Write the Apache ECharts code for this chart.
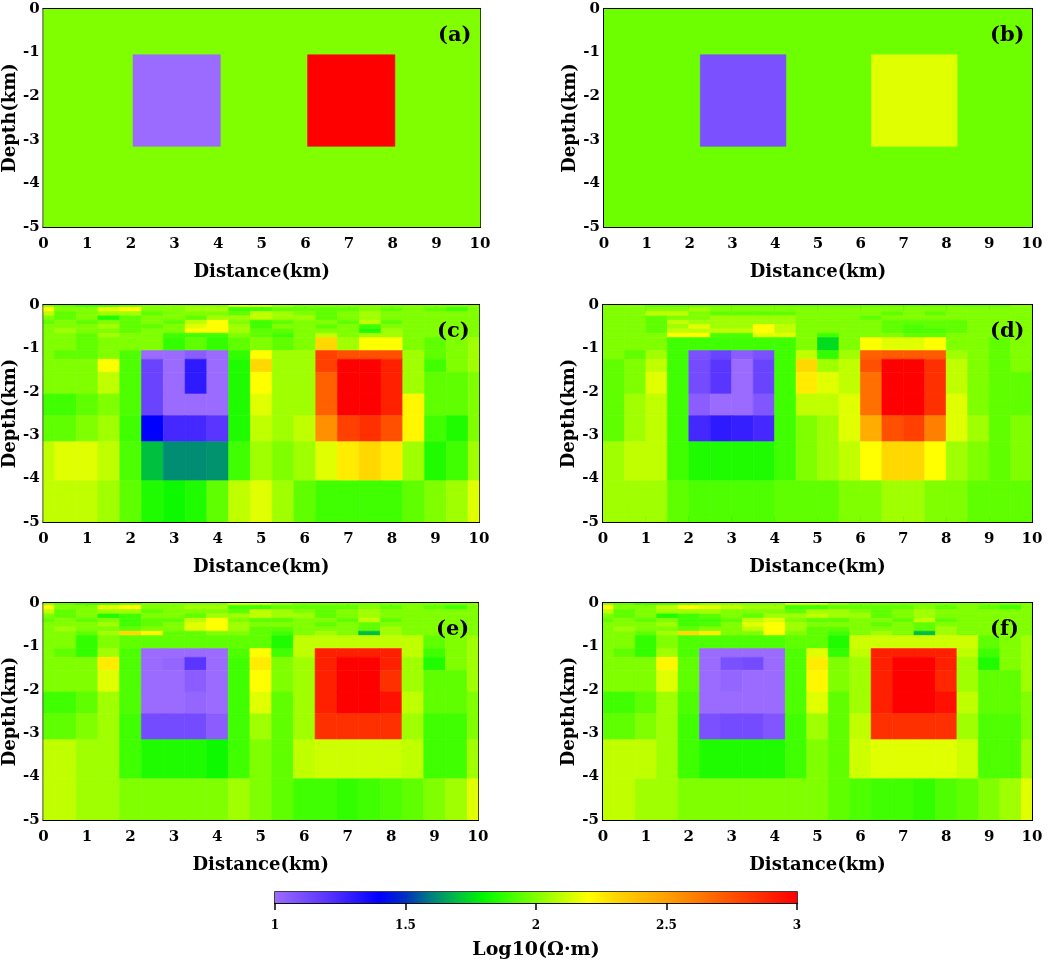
<!DOCTYPE html>
<html>
<head>
<meta charset="utf-8">
<script src="https://cdn.jsdelivr.net/npm/echarts@6/dist/echarts.min.js"></script>
<style>
html, body { margin: 0; padding: 0; background: #fff; }
#chart { width: 1052px; height: 968px; }
</style>
</head>
<body>
<div id="chart"></div>
<script>
// colour scale, log10 resistivity 1..3 in steps of 0.1
var scaleMin = 1, scaleMax = 3;
var scaleColors = ['#9b6bff', '#7a50ff', '#5a35ff', '#2d1aff', '#0000ff', '#0030c0', '#008080',
    '#00c040', '#00f800', '#40ff00', '#80ff00', '#c0ff00', '#ffff00', '#ffd800', '#ffbb00',
    '#ffa000', '#ff8000', '#ff6000', '#ff4000', '#ff2000', '#ff0000'];
var scaleTicks = [1, 1.5, 2, 2.5, 3];

var panelNames = ['(a)', '(b)', '(c)', '(d)', '(e)', '(f)'];

// true models: [x0, x1, depth0, depth1, value]
var modelA = [
    [0, 10, 0, 5, 2.0],
    [2.05, 4.05, 1.05, 3.15, 1.0],
    [6.05, 8.05, 1.05, 3.15, 3.0]
];
var modelB = [
    [0, 10, 0, 5, 1.97],
    [2.25, 4.25, 1.05, 3.15, 1.1],
    [6.25, 8.25, 1.05, 3.15, 2.15]
];

// inversion meshes (km)
var depthEdges = [0, 0.05, 0.15, 0.25, 0.35, 0.45, 0.55, 0.65, 0.75, 1.05, 1.25, 1.55, 2.05, 2.55, 3.15, 4.05, 5];
var xEdgesShift = [0, 0.25, 0.75, 1.25, 1.75, 2.25, 2.75, 3.25, 3.75, 4.25, 4.75, 5.25, 5.75, 6.25, 6.75, 7.25, 7.75, 8.25, 8.75, 9.25, 9.75, 10];
var xEdgesHalf = [0, 0.5, 1, 1.5, 2, 2.5, 3, 3.5, 4, 4.5, 5, 5.5, 6, 6.5, 7, 7.5, 8, 8.5, 9, 9.5, 10];

var invC = [
    [2.0, 1.95, 1.9, 1.9, 1.95, 2.0, 2.0, 2.0, 2.0, 2.15, 2.15, 2.05, 2.0, 2.0, 2.0, 2.0, 2.0, 2.0, 2.0, 2.0, 2.0],
    [2.2, 2.0, 2.0, 2.15, 2.2, 2.0, 2.0, 2.05, 2.05, 1.9, 1.9, 1.95, 1.95, 1.95, 1.95, 2.0, 1.95, 2.0, 1.95, 1.9, 2.0],
    [2.1, 1.95, 2.0, 2.05, 2.05, 1.95, 2.0, 2.0, 2.0, 1.95, 2.1, 2.05, 2.0, 1.95, 2.0, 2.05, 2.0, 2.0, 2.0, 2.0, 2.0],
    [2.0, 1.95, 2.0, 1.85, 1.95, 2.0, 2.0, 1.95, 2.05, 2.05, 2.1, 2.05, 2.05, 1.95, 2.0, 2.05, 2.0, 2.0, 2.0, 2.0, 2.0],
    [1.95, 2.0, 1.95, 2.0, 1.95, 2.0, 1.95, 2.1, 2.2, 2.0, 1.9, 1.95, 2.0, 2.0, 1.95, 2.1, 1.95, 2.0, 2.0, 2.0, 2.0],
    [2.0, 2.0, 2.0, 2.05, 1.95, 1.95, 2.0, 2.15, 2.2, 2.05, 1.9, 2.0, 2.0, 1.95, 2.0, 1.9, 2.0, 2.0, 2.0, 2.0, 2.0],
    [2.0, 2.05, 2.0, 2.0, 1.95, 2.0, 2.0, 2.2, 2.2, 2.05, 1.95, 1.95, 2.0, 2.0, 2.0, 1.85, 2.05, 2.0, 2.0, 2.0, 2.0],
    [2.0, 2.0, 1.95, 2.05, 2.0, 2.0, 1.9, 1.9, 1.9, 2.0, 1.95, 1.9, 2.0, 2.1, 2.0, 2.05, 2.05, 2.0, 2.0, 2.0, 2.0],
    [2.0, 2.0, 1.95, 2.0, 2.0, 2.0, 1.88, 1.95, 1.88, 1.95, 2.0, 1.95, 2.0, 2.3, 2.05, 2.2, 2.2, 2.0, 1.95, 2.0, 2.05],
    [2.0, 1.95, 1.95, 2.0, 1.92, 1.0, 1.0, 1.05, 1.0, 1.88, 2.2, 2.05, 2.05, 2.8, 2.75, 2.75, 2.75, 2.05, 1.95, 2.0, 2.05],
    [2.0, 2.0, 2.0, 2.2, 1.92, 1.15, 1.0, 1.3, 1.0, 1.85, 2.3, 2.05, 2.05, 2.8, 3.0, 3.0, 2.9, 2.05, 1.9, 2.0, 2.05],
    [2.0, 2.0, 2.0, 2.1, 1.92, 1.15, 1.0, 1.3, 1.0, 1.85, 2.2, 2.05, 2.05, 2.7, 3.0, 3.0, 2.9, 2.05, 1.95, 1.95, 2.0],
    [1.9, 1.9, 1.95, 2.0, 1.92, 1.15, 1.0, 1.0, 1.0, 1.85, 2.15, 2.05, 2.05, 2.7, 3.0, 3.0, 2.9, 2.22, 1.95, 1.95, 2.0],
    [1.95, 1.95, 2.0, 2.05, 1.9, 1.4, 1.25, 1.25, 1.2, 1.85, 2.1, 2.05, 2.1, 2.55, 2.8, 2.85, 2.75, 2.22, 1.9, 1.85, 2.0],
    [2.1, 2.15, 2.15, 2.1, 1.92, 1.7, 1.62, 1.62, 1.63, 1.9, 2.05, 2.0, 2.05, 2.15, 2.25, 2.3, 2.25, 2.05, 1.85, 1.9, 2.05],
    [2.1, 2.1, 2.1, 2.05, 1.95, 1.85, 1.82, 1.85, 1.95, 2.1, 2.15, 2.05, 1.95, 1.9, 1.9, 1.9, 1.9, 1.95, 2.0, 2.05, 2.15]
];

var invD = [
    [2.0, 2.0, 1.95, 1.95, 1.95, 1.95, 1.95, 1.95, 1.95, 1.95, 1.95, 1.95, 1.95, 1.95, 1.95, 1.95, 1.95, 1.95, 1.95, 2.0],
    [2.0, 2.0, 2.0, 2.0, 2.05, 2.0, 2.0, 2.0, 2.0, 2.0, 2.0, 2.0, 2.0, 2.0, 2.0, 2.0, 2.0, 2.0, 2.0, 2.0],
    [2.0, 2.0, 2.1, 2.1, 2.0, 1.95, 1.95, 1.95, 1.95, 2.0, 2.0, 2.0, 2.0, 1.95, 2.0, 1.95, 2.0, 2.0, 2.0, 2.0],
    [2.0, 2.0, 1.95, 2.0, 2.0, 2.05, 2.05, 2.05, 2.05, 2.0, 2.0, 2.0, 1.95, 2.0, 2.0, 2.0, 2.0, 2.0, 2.0, 2.0],
    [2.0, 2.0, 1.95, 2.1, 2.05, 2.05, 2.05, 2.05, 2.05, 2.0, 2.0, 2.0, 2.0, 1.95, 1.95, 1.95, 1.95, 2.0, 2.0, 2.0],
    [2.0, 2.0, 1.95, 2.05, 2.15, 2.05, 2.05, 2.2, 2.1, 2.0, 2.0, 2.0, 2.0, 1.95, 1.92, 1.95, 1.95, 2.0, 2.0, 2.0],
    [2.0, 2.0, 1.95, 2.1, 2.1, 2.1, 2.1, 2.2, 2.1, 2.0, 2.0, 2.0, 2.0, 1.95, 1.92, 1.92, 1.95, 2.0, 2.0, 2.0],
    [2.0, 2.0, 2.0, 2.2, 2.2, 1.92, 1.92, 2.15, 2.15, 2.0, 1.9, 2.0, 2.0, 2.0, 1.95, 1.95, 2.0, 2.0, 2.0, 2.0],
    [2.0, 2.0, 2.0, 1.9, 1.9, 1.9, 1.9, 1.9, 1.9, 2.0, 1.75, 2.0, 2.2, 2.15, 2.15, 2.2, 2.0, 2.0, 1.95, 2.0],
    [2.0, 1.95, 2.05, 1.9, 1.1, 1.15, 1.05, 1.1, 1.9, 2.1, 1.88, 2.05, 2.7, 2.72, 2.72, 2.72, 2.05, 2.0, 1.95, 2.0],
    [1.95, 2.0, 2.1, 1.9, 1.12, 1.2, 1.0, 1.15, 1.9, 2.3, 2.05, 2.1, 2.75, 3.0, 3.0, 2.85, 2.1, 2.0, 1.95, 2.0],
    [1.95, 2.0, 2.15, 1.9, 1.12, 1.2, 1.0, 1.15, 1.9, 2.25, 2.15, 2.1, 2.65, 3.0, 3.0, 2.85, 2.1, 2.0, 1.95, 1.95],
    [1.95, 2.05, 2.1, 1.9, 1.05, 1.0, 1.0, 1.08, 1.9, 2.1, 2.1, 2.15, 2.65, 3.0, 3.0, 2.85, 2.15, 2.0, 1.95, 1.95],
    [1.95, 2.05, 2.1, 1.9, 1.25, 1.3, 1.28, 1.25, 1.9, 2.0, 2.05, 2.15, 2.45, 2.75, 2.8, 2.6, 2.15, 2.05, 1.95, 2.0],
    [2.05, 2.1, 2.1, 1.9, 1.85, 1.85, 1.85, 1.85, 1.9, 2.0, 2.05, 2.1, 2.2, 2.3, 2.3, 2.2, 2.05, 2.0, 1.95, 2.0],
    [2.05, 2.05, 2.05, 1.95, 1.92, 1.92, 1.92, 1.92, 1.95, 1.95, 1.95, 2.0, 2.0, 2.05, 2.05, 2.0, 2.0, 1.95, 1.95, 1.95]
];

var invE = [
    [2.0, 1.95, 1.9, 1.9, 1.95, 2.0, 2.0, 2.0, 2.0, 2.15, 2.15, 2.05, 2.0, 2.0, 2.0, 2.0, 2.0, 2.0, 2.0, 2.0, 2.0],
    [2.2, 2.0, 2.0, 2.15, 2.2, 2.0, 2.0, 2.05, 2.05, 1.9, 1.9, 1.95, 1.95, 1.95, 1.95, 2.0, 1.95, 2.0, 1.95, 1.9, 2.0],
    [2.1, 1.95, 2.0, 2.05, 2.05, 1.95, 2.0, 2.0, 2.0, 1.95, 2.1, 2.05, 2.0, 1.95, 2.0, 2.05, 2.0, 2.0, 2.0, 2.0, 2.0],
    [2.0, 1.95, 2.0, 1.85, 1.9, 2.0, 2.0, 1.95, 2.05, 2.05, 2.1, 2.05, 2.05, 1.95, 2.0, 2.05, 2.0, 2.0, 2.0, 2.0, 2.0],
    [1.95, 2.0, 1.95, 2.0, 1.9, 1.95, 1.95, 2.1, 2.2, 2.0, 1.95, 1.95, 2.0, 2.0, 1.95, 2.1, 1.95, 2.0, 2.0, 2.0, 2.0],
    [2.0, 2.0, 2.0, 2.05, 1.9, 1.95, 2.0, 2.15, 2.2, 2.05, 2.0, 2.0, 2.0, 1.95, 2.0, 1.95, 2.0, 2.0, 2.0, 2.0, 2.0],
    [2.0, 2.05, 2.0, 2.0, 1.95, 2.0, 2.0, 2.15, 2.2, 2.05, 1.95, 1.95, 2.0, 2.0, 2.0, 1.95, 2.05, 2.0, 2.0, 2.0, 2.0],
    [2.0, 2.0, 1.95, 2.05, 2.3, 2.22, 1.95, 1.95, 2.0, 2.0, 1.95, 1.9, 2.0, 2.05, 2.0, 1.7, 2.05, 2.0, 2.0, 2.0, 2.0],
    [2.0, 2.0, 1.88, 2.0, 1.95, 1.95, 1.95, 1.95, 1.95, 1.95, 1.95, 1.85, 2.1, 2.1, 2.1, 2.1, 2.1, 2.1, 1.95, 2.0, 2.05],
    [2.0, 1.95, 1.88, 2.05, 1.92, 1.0, 1.0, 1.0, 1.0, 1.92, 2.2, 1.9, 2.1, 2.9, 2.9, 2.9, 2.9, 2.1, 1.9, 2.0, 2.05],
    [2.0, 2.0, 2.0, 2.25, 1.92, 1.0, 1.02, 1.2, 1.0, 1.9, 2.25, 2.0, 2.05, 2.9, 3.0, 3.0, 2.9, 2.05, 1.85, 2.0, 2.05],
    [2.0, 2.0, 2.0, 2.15, 1.92, 1.0, 1.0, 1.05, 1.0, 1.9, 2.2, 2.0, 2.05, 2.9, 3.0, 3.0, 2.85, 2.05, 1.95, 1.95, 2.05],
    [1.9, 1.9, 1.95, 2.05, 1.92, 1.0, 1.0, 1.02, 1.0, 1.9, 2.15, 1.95, 2.05, 2.9, 3.0, 3.0, 2.95, 2.1, 1.95, 1.95, 2.0],
    [1.95, 1.95, 2.0, 2.05, 1.9, 1.12, 1.12, 1.12, 1.05, 1.9, 2.05, 1.95, 2.05, 2.85, 2.85, 2.85, 2.85, 2.05, 1.9, 1.9, 2.0],
    [2.1, 2.1, 2.05, 2.05, 1.9, 1.85, 1.85, 1.85, 1.82, 1.9, 2.0, 1.95, 2.1, 2.12, 2.12, 2.12, 2.12, 2.1, 1.9, 1.9, 2.05],
    [2.1, 2.1, 2.05, 2.05, 2.0, 2.0, 2.0, 2.0, 2.0, 2.05, 2.0, 1.95, 1.9, 1.9, 1.88, 1.9, 1.92, 1.95, 2.0, 2.05, 2.15]
];

var invF = [
    [2.0, 1.95, 1.9, 1.9, 1.95, 2.0, 2.0, 2.0, 2.0, 2.15, 2.15, 2.05, 2.0, 2.0, 2.0, 2.0, 2.0, 2.0, 2.0, 2.0, 2.0],
    [2.2, 2.0, 2.0, 2.1, 2.2, 2.15, 2.1, 2.05, 2.05, 1.9, 1.9, 1.95, 1.95, 1.95, 1.95, 2.0, 1.95, 2.0, 1.95, 1.9, 2.0],
    [2.1, 1.95, 2.0, 2.05, 2.05, 2.05, 2.0, 2.0, 2.0, 1.95, 2.05, 2.05, 2.0, 1.95, 2.0, 2.05, 2.0, 2.0, 2.0, 2.0, 2.0],
    [2.0, 1.95, 2.0, 1.85, 1.9, 1.95, 2.0, 1.95, 2.05, 2.05, 2.1, 2.05, 2.05, 1.95, 2.0, 2.05, 2.0, 2.0, 2.0, 2.0, 2.0],
    [1.95, 2.0, 1.95, 2.0, 1.9, 1.9, 1.95, 2.1, 2.15, 2.0, 1.95, 1.95, 2.0, 2.0, 1.95, 2.1, 1.95, 2.0, 2.0, 2.0, 2.0],
    [2.0, 2.0, 2.0, 2.05, 1.9, 1.92, 2.0, 2.15, 2.2, 2.05, 2.0, 2.0, 2.0, 1.95, 2.0, 1.95, 2.0, 2.0, 2.0, 2.0, 2.0],
    [2.0, 2.05, 2.0, 2.0, 1.95, 2.0, 2.0, 2.1, 2.2, 2.05, 1.95, 1.95, 2.0, 2.0, 2.0, 1.95, 2.05, 2.0, 2.0, 2.0, 2.0],
    [2.0, 2.0, 1.95, 2.05, 2.3, 2.25, 2.0, 2.0, 2.2, 2.0, 1.95, 1.9, 2.0, 2.05, 2.0, 1.7, 2.05, 2.0, 2.0, 2.0, 2.0],
    [2.0, 2.0, 1.88, 2.0, 1.92, 1.92, 1.92, 1.92, 1.92, 1.95, 1.95, 1.85, 2.12, 2.12, 2.12, 2.12, 2.12, 2.12, 1.95, 2.0, 2.05],
    [2.0, 1.95, 1.88, 2.05, 1.92, 1.0, 1.0, 1.0, 1.0, 1.92, 2.15, 1.88, 2.1, 2.9, 2.9, 2.9, 2.9, 2.1, 1.9, 2.0, 2.05],
    [2.0, 2.0, 2.0, 2.22, 1.95, 1.0, 1.1, 1.12, 1.0, 1.92, 2.25, 2.0, 2.05, 2.9, 3.0, 3.0, 2.9, 2.05, 1.85, 2.0, 2.05],
    [2.0, 2.0, 2.0, 2.15, 1.95, 1.0, 1.02, 1.0, 1.0, 1.92, 2.22, 2.0, 2.05, 2.9, 3.0, 3.0, 2.88, 2.05, 1.95, 1.95, 2.05],
    [1.9, 1.9, 1.95, 2.05, 1.92, 1.0, 1.0, 1.0, 1.0, 1.92, 2.15, 1.95, 2.05, 2.9, 3.0, 3.0, 2.95, 2.1, 1.95, 1.95, 2.0],
    [1.95, 1.95, 2.0, 2.05, 1.9, 1.1, 1.12, 1.12, 1.08, 1.9, 2.05, 1.95, 2.1, 2.85, 2.85, 2.85, 2.85, 2.05, 1.92, 1.92, 2.0],
    [2.1, 2.1, 2.1, 2.05, 1.9, 1.85, 1.85, 1.85, 1.85, 1.9, 2.0, 1.95, 2.12, 2.15, 2.15, 2.15, 2.15, 2.12, 1.92, 1.92, 2.05],
    [2.1, 2.1, 2.05, 2.05, 2.0, 2.0, 2.0, 2.0, 2.0, 2.0, 2.0, 1.95, 1.92, 1.9, 1.9, 1.88, 1.92, 1.95, 2.0, 2.05, 2.15]
];

function meshCells(xEdges, dEdges, values) {
    var out = [];
    for (var r = 0; r < values.length; r++) {
        for (var c = 0; c < values[r].length; c++) {
            out.push([xEdges[c], xEdges[c + 1], dEdges[r], dEdges[r + 1], values[r][c]]);
        }
    }
    return out;
}

var panelData = [
    modelA,
    modelB,
    meshCells(xEdgesShift, depthEdges, invC),
    meshCells(xEdgesHalf, depthEdges, invD),
    meshCells(xEdgesShift, depthEdges, invE),
    meshCells(xEdgesShift, depthEdges, invF)
];

// plot boxes in px
var boxes = [
    {left: 43, top: 9, width: 437, height: 218},
    {left: 604, top: 9, width: 428, height: 218},
    {left: 43, top: 305, width: 436, height: 217},
    {left: 603, top: 305, width: 429, height: 217},
    {left: 42, top: 603, width: 436, height: 217},
    {left: 603, top: 603, width: 429, height: 217}
];

var serif = 'DejaVu Serif';

function renderCell(params, api) {
    var p0 = api.coord([api.value(0), -api.value(2)]);
    var p1 = api.coord([api.value(1), -api.value(3)]);
    var color = api.visual('color');
    return {
        type: 'rect',
        shape: {x: p0[0], y: p0[1], width: p1[0] - p0[0], height: p1[1] - p0[1]},
        style: {fill: color, stroke: color, lineWidth: 0.6}
    };
}

var grids = [], xAxes = [], yAxes = [], series = [], titles = [];

boxes.forEach(function (b, i) {
    grids.push({left: b.left, top: b.top, width: b.width, height: b.height,
        show: true, borderColor: '#000', borderWidth: 2, backgroundColor: 'transparent'});
    var tick = {show: true, inside: true, length: 6, lineStyle: {color: '#000', width: 2}};
    var line = {show: true, onZero: false, lineStyle: {color: '#000', width: 2}};
    xAxes.push({
        type: 'value', gridIndex: i, min: 0, max: 10, interval: 1, position: 'bottom',
        name: 'Distance(km)', nameLocation: 'middle', nameGap: 36,
        nameTextStyle: {fontFamily: serif, fontWeight: 'bold', fontSize: 18, color: '#000'},
        axisLine: line, axisTick: tick,
        axisLabel: {margin: 10, fontFamily: serif, fontWeight: 'bold', fontSize: 15, color: '#000'},
        splitLine: {show: false}
    });
    xAxes.push({
        type: 'value', gridIndex: i, min: 0, max: 10, interval: 1, position: 'top',
        axisLine: line, axisTick: tick, axisLabel: {show: false}, splitLine: {show: false}
    });
    yAxes.push({
        type: 'value', gridIndex: i, min: -5, max: 0, interval: 1, position: 'left',
        name: 'Depth(km)', nameLocation: 'middle', nameGap: 21, nameRotate: 90,
        nameTextStyle: {fontFamily: serif, fontWeight: 'bold', fontSize: 18, color: '#000'},
        axisLine: line, axisTick: tick,
        axisLabel: {margin: 4, fontFamily: serif, fontWeight: 'bold', fontSize: 15, color: '#000'},
        splitLine: {show: false}
    });
    yAxes.push({
        type: 'value', gridIndex: i, min: -5, max: 0, interval: 1, position: 'right',
        axisLine: line, axisTick: tick, axisLabel: {show: false}, splitLine: {show: false}
    });
    series.push({
        type: 'custom', name: panelNames[i], xAxisIndex: 2 * i, yAxisIndex: 2 * i,
        renderItem: renderCell, clip: true, silent: true,
        encode: {x: [0, 1], y: [2, 3]},
        data: panelData[i], z: 1
    });
    titles.push({
        text: panelNames[i], left: b.left + b.width - 42, top: b.top + 16, padding: 0,
        textStyle: {fontFamily: serif, fontWeight: 'bold', fontSize: 21, color: '#000'}
    });
});

// colour bar
grids.push({left: 275, top: 892, width: 522, height: 11, show: true, borderColor: '#000', borderWidth: 1.5});
xAxes.push({
    type: 'value', gridIndex: 6, min: scaleMin, max: scaleMax, interval: 0.5, position: 'bottom',
    name: 'Log10(Ω·m)', nameLocation: 'middle', nameGap: 38,
    nameTextStyle: {fontFamily: serif, fontWeight: 'bold', fontSize: 19, color: '#000'},
    axisLine: {show: true, onZero: false, lineStyle: {color: '#000', width: 1.5}},
    axisTick: {show: true, inside: false, length: 7, lineStyle: {color: '#000', width: 1.5}},
    axisLabel: {margin: 17, fontFamily: serif, fontWeight: 'bold', fontSize: 12, color: '#000'},
    splitLine: {show: false}
});
yAxes.push({type: 'value', gridIndex: 6, min: 0, max: 1, show: false});

var gradStops = scaleColors.map(function (c, k) {
    return {offset: k / (scaleColors.length - 1), color: c};
});
series.push({
    type: 'custom', xAxisIndex: 12, yAxisIndex: 12, silent: true,
    data: [[scaleTicks[0], scaleTicks[scaleTicks.length - 1]]],
    renderItem: function (params, api) {
        var p0 = api.coord([api.value(0), 1]);
        var p1 = api.coord([api.value(1), 0]);
        return {
            type: 'rect',
            shape: {x: p0[0], y: p0[1], width: p1[0] - p0[0], height: p1[1] - p0[1]},
            style: {fill: new echarts.graphic.LinearGradient(0, 0, 1, 0, gradStops)}
        };
    }
});

var myChart = echarts.init(document.getElementById('chart'));
myChart.setOption({
    animation: false,
    backgroundColor: '#fff',
    title: titles,
    grid: grids,
    xAxis: xAxes,
    yAxis: yAxes,
    visualMap: {
        type: 'continuous', show: false, min: scaleMin, max: scaleMax,
        dimension: 4, seriesIndex: [0, 1, 2, 3, 4, 5],
        inRange: {color: scaleColors}
    },
    series: series
});
</script>
</body>
</html>
